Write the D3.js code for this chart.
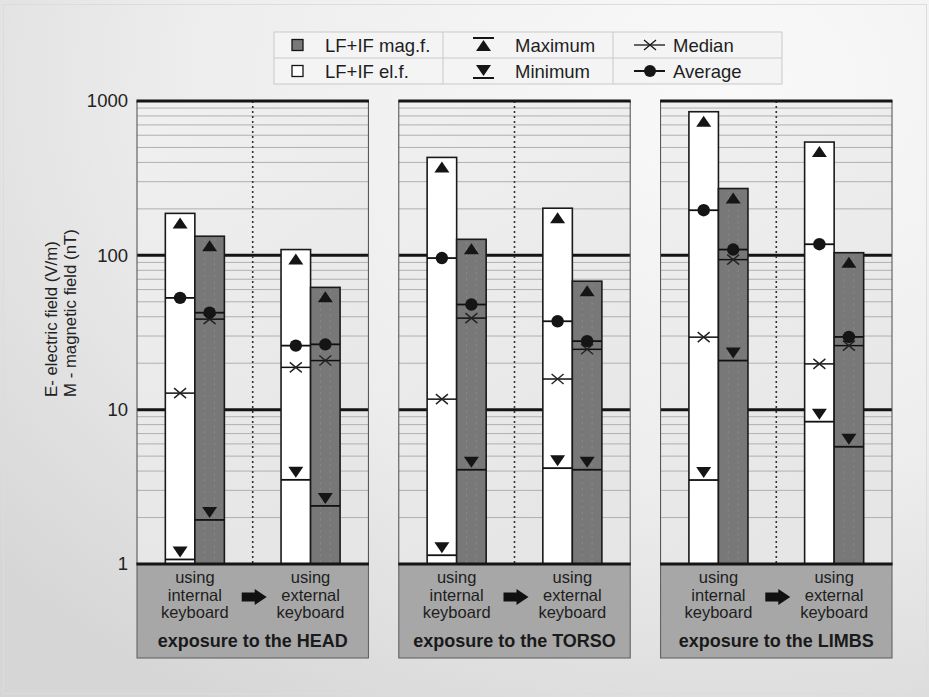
<!DOCTYPE html>
<html>
<head>
<meta charset="utf-8">
<script src="https://cdn.jsdelivr.net/npm/d3@7"></script>
<style>
  html, body { margin: 0; padding: 0; background: #ececec; }
  svg { display: block; font-family: "Liberation Sans", Arial, Helvetica, sans-serif; }
</style>
</head>
<body>
<svg id="chart" width="929" height="697"></svg>
<script>
// ---- data -------------------------------------------------------------
const regions   = ["HEAD", "TORSO", "LIMBS"];
const keyboards = ["internal", "external"];
const fields    = ["el", "mag"];          // LF+IF electric field (V/m), magnetic field (nT)

// values ordered region by region: [internal el, internal mag, external el, external mag]
const maxima   = [187, 133, 109, 62,   431, 127, 202, 68,   852, 271, 542, 104];
const averages = [53, 42.5, 26, 26.5,  96, 48, 37.4, 27.8,  196, 109, 118, 29.6];
const medians  = [12.8, 38.6, 18.8, 20.8, 11.7, 39.2, 15.8, 24.6, 29.5, 93.8, 19.8, 26];
const minima   = [1.07, 1.93, 3.51, 2.38, 1.14, 4.08, 4.18, 4.08, 3.5, 20.8, 8.36, 5.75];

const yTickValues = [1, 10, 100, 1000];
const yTitleLines = ["E- electric field (V/m)", "M - magnetic field (nT)"];
const keyboardLabels = {
  internal: ["using", "internal", "keyboard"],
  external: ["using", "external", "keyboard"]
};
const regionTitles = regions.map(r => "exposure to the " + r);
const legendFields  = [["mag", "LF+IF mag.f."], ["el", "LF+IF el.f."]];
const legendExtrema = ["Maximum", "Minimum"];
const legendCentral = ["Median", "Average"];

// flat records for every bar
const records = [];
regions.forEach((r, ri) => keyboards.forEach((k, ki) => fields.forEach((f, fi) => {
  const i = ri * 4 + ki * 2 + fi;
  records.push({ region: r, keyboard: k, field: f,
    max: maxima[i], avg: averages[i], med: medians[i], min: minima[i] });
})));

// ---- layout -------------------------------------------------------------
const W = 929, H = 697;
const plotTop = 101, plotBottom = 564, boxBottom = 658;
const svg = d3.select("#chart");

const y = d3.scaleLog().domain([1, 1000]).range([plotBottom, plotTop]);
const xPanel = d3.scaleBand().domain(regions).range([137, 892]).paddingInner(0.116).paddingOuter(0);
const pw = xPanel.bandwidth();
const xKey = d3.scaleBand().domain(keyboards).range([0, pw]);
const xField = d3.scaleBand().domain(fields).range([0, xKey.bandwidth()]).paddingInner(0).paddingOuter(0.96);
const bw = xField.bandwidth();

const colors = { el: "#ffffff", mag: "#787878" };
const ink = "#151515";

// ---- background ---------------------------------------------------------
const defs = svg.append("defs");
const bg = defs.append("radialGradient").attr("id", "bgGrad")
  .attr("cx", "0.78").attr("cy", "0.12").attr("r", "1.05");
bg.append("stop").attr("offset", "0").attr("stop-color", "#f9f9f9");
bg.append("stop").attr("offset", "0.55").attr("stop-color", "#ededed");
bg.append("stop").attr("offset", "1").attr("stop-color", "#d6d6d6");
const pg = defs.append("linearGradient").attr("id", "panelGrad")
  .attr("x1", "0").attr("y1", "0").attr("x2", "0.3").attr("y2", "1");
pg.append("stop").attr("offset", "0").attr("stop-color", "#f0f0f0");
pg.append("stop").attr("offset", "1").attr("stop-color", "#e6e6e6");

svg.append("rect").attr("width", W).attr("height", H).attr("fill", "url(#bgGrad)");
svg.append("rect").attr("x", 3.5).attr("y", 4.5).attr("width", W - 6).attr("height", H - 8)
  .attr("fill", "none").attr("stroke", "#dcdcdc").attr("stroke-width", 1);

// ---- legend -------------------------------------------------------------
const lg = svg.append("g").attr("font-size", 18.5).attr("fill", "#1e1e1e");
const lx0 = 274, ly0 = 32, lw = 508, lh = 52, c1 = 443, c2 = 613, rowH = lh / 2;
lg.append("rect").attr("x", lx0).attr("y", ly0).attr("width", lw).attr("height", lh)
  .attr("fill", "#f4f4f4").attr("stroke", "#c9c9c9");
lg.append("line").attr("x1", lx0).attr("x2", lx0 + lw).attr("y1", ly0 + rowH).attr("y2", ly0 + rowH)
  .attr("stroke", "#c9c9c9");
[c1, c2].forEach(cx => lg.append("line").attr("x1", cx).attr("x2", cx)
  .attr("y1", ly0).attr("y2", ly0 + lh).attr("stroke", "#c9c9c9"));

legendFields.forEach(([f, label], i) => {
  const cy = ly0 + rowH * i + rowH / 2;
  lg.append("rect").attr("x", 292).attr("y", cy - 5.5).attr("width", 11).attr("height", 11)
    .attr("fill", colors[f]).attr("stroke", ink).attr("stroke-width", 1.3);
  lg.append("text").attr("x", 325).attr("y", cy + 6.5).text(label);
});

// 15 px wide, 11 px tall triangle pointing up or down
function triPath(up) {
  return up ? "M0,-5.5L7.5,5.5L-7.5,5.5Z" : "M0,5.5L7.5,-5.5L-7.5,-5.5Z";
}
legendExtrema.forEach((label, i) => {
  const cy = ly0 + rowH * i + rowH / 2;
  const up = i === 0;
  const lineY = up ? cy - 7 : cy + 7;
  lg.append("line").attr("x1", 473).attr("x2", 494).attr("y1", lineY).attr("y2", lineY)
    .attr("stroke", ink).attr("stroke-width", 2);
  lg.append("path").attr("d", triPath(up)).attr("transform", `translate(483.5,${up ? cy + 0.5 : cy - 0.5})`)
    .attr("fill", ink);
  lg.append("text").attr("x", 515).attr("y", cy + 6.5).text(label);
});

legendCentral.forEach((label, i) => {
  const cy = ly0 + rowH * i + rowH / 2;
  lg.append("line").attr("x1", 634).attr("x2", 665).attr("y1", cy).attr("y2", cy)
    .attr("stroke", ink).attr("stroke-width", i === 0 ? 1.3 : 2);
  if (i === 0) {
    lg.append("path").attr("d", "M-6,-5L6,5M-6,5L6,-5").attr("transform", `translate(650,${cy})`)
      .attr("stroke", ink).attr("stroke-width", 1.3).attr("fill", "none");
  } else {
    lg.append("circle").attr("cx", 650).attr("cy", cy).attr("r", 6).attr("fill", ink);
  }
  lg.append("text").attr("x", 673).attr("y", cy + 6.5).text(label);
});

// ---- y axis ---------------------------------------------------------------
const yAxis = svg.append("g").attr("transform", `translate(${xPanel(regions[0])},0)`)
  .call(d3.axisLeft(y).tickValues(yTickValues).tickFormat(d3.format("d")).tickSize(0).tickPadding(9));
yAxis.select(".domain").remove();
yAxis.selectAll("text").attr("font-size", 18.5).attr("fill", "#222")
  .attr("font-family", "\"Liberation Sans\", Arial, sans-serif");

yTitleLines.forEach((t, i) => {
  svg.append("text")
    .attr("transform", `translate(${57 + i * 19},397) rotate(-90)`)
    .attr("font-size", 16.8).attr("fill", "#222").text(t);
});

// ---- panels ---------------------------------------------------------------
const gridTicks = y.ticks();
const minorTicks = gridTicks.filter(v => !yTickValues.includes(v));
const innerMajors = [10, 100];

regions.forEach((region, ri) => {
  const g = svg.append("g").attr("transform", `translate(${xPanel(region)},0)`);

  g.append("rect").attr("x", 0).attr("y", plotTop).attr("width", pw).attr("height", plotBottom - plotTop)
    .attr("fill", "url(#panelGrad)");

  g.selectAll(".minor").data(minorTicks).join("line")
    .attr("x1", 0).attr("x2", pw).attr("y1", d => y(d)).attr("y2", d => y(d))
    .attr("stroke", "#b0b0b0").attr("stroke-width", 1);

  g.selectAll(".major").data(innerMajors).join("line")
    .attr("x1", 0).attr("x2", pw).attr("y1", d => y(d)).attr("y2", d => y(d))
    .attr("stroke", ink).attr("stroke-width", 3);

  g.append("line").attr("x1", pw / 2).attr("x2", pw / 2).attr("y1", plotTop).attr("y2", plotBottom)
    .attr("stroke", "#333").attr("stroke-width", 1.6).attr("stroke-dasharray", "2,3");

  const recs = records.filter(d => d.region === region);
  const bx = d => xKey(d.keyboard) + xField(d.field);

  const bars = g.selectAll(".bar").data(recs).join("g").attr("transform", d => `translate(${bx(d)},0)`);

  bars.append("rect").attr("x", 0).attr("width", bw)
    .attr("y", d => y(d.max)).attr("height", d => y(1) - y(d.max))
    .attr("fill", d => colors[d.field]).attr("stroke", "#1a1a1a").attr("stroke-width", 1.6);

  // faint streaks inside the shaded bars
  bars.filter(d => d.field === "mag").selectAll(".streak").data(d => [bw / 3, 2 * bw / 3].map(x => ({ x, d })))
    .join("line")
    .attr("x1", s => s.x).attr("x2", s => s.x)
    .attr("y1", s => y(s.d.max) + 3).attr("y2", y(1) - 2)
    .attr("stroke", "#8b8b8b").attr("stroke-width", 1).attr("stroke-dasharray", "2,4");

  ["min", "med", "avg"].forEach(key => {
    bars.append("line").attr("x1", 0).attr("x2", bw)
      .attr("y1", d => y(d[key])).attr("y2", d => y(d[key]))
      .attr("stroke", "#111").attr("stroke-width", key === "med" ? 1.5 : 1.8);
  });

  bars.append("path").attr("d", triPath(true))
    .attr("transform", d => `translate(${bw / 2},${y(d.max) + 9.5})`).attr("fill", ink);
  bars.append("path").attr("d", triPath(false))
    .attr("transform", d => `translate(${bw / 2},${y(d.min) - 7.5})`).attr("fill", ink);
  bars.append("path").attr("d", "M-6,-5L6,5M-6,5L6,-5")
    .attr("transform", d => `translate(${bw / 2},${y(d.med)})`)
    .attr("stroke", "#222").attr("stroke-width", 1.4).attr("fill", "none");
  bars.append("circle").attr("cx", bw / 2).attr("cy", d => y(d.avg)).attr("r", 6.2).attr("fill", ink);

  // frame
  [0, pw].forEach(x => g.append("line").attr("x1", x).attr("x2", x).attr("y1", plotTop).attr("y2", plotBottom)
    .attr("stroke", "#4a4a4a").attr("stroke-width", 1));

  // category box under the plot
  g.append("rect").attr("x", 0).attr("y", plotBottom).attr("width", pw).attr("height", boxBottom - plotBottom)
    .attr("fill", "#a7a7a7").attr("stroke", "#5a5a5a").attr("stroke-width", 1);

  [1000, 1].forEach(v => g.append("line").attr("x1", -0.5).attr("x2", pw + 0.5)
    .attr("y1", y(v)).attr("y2", y(v)).attr("stroke", ink).attr("stroke-width", 3.2));

  keyboards.forEach(k => {
    const cx = xKey(k) + xKey.bandwidth() / 2;
    keyboardLabels[k].forEach((s, li) => g.append("text")
      .attr("x", cx).attr("y", 583 + li * 17.5).attr("text-anchor", "middle")
      .attr("font-size", 16.5).attr("fill", "#1e1e1e").text(s));
  });

  g.append("path").attr("d", "M-12,-4.5L1,-4.5L1,-8L13,0L1,8L1,4.5L-12,4.5Z")
    .attr("transform", `translate(${pw / 2 + 1},597)`).attr("fill", "#111");

  g.append("text").attr("x", pw / 2).attr("y", 647).attr("text-anchor", "middle")
    .attr("font-size", 18).attr("font-weight", "bold").attr("fill", "#1a1a1a").text(regionTitles[ri]);
});
</script>
</body>
</html>
